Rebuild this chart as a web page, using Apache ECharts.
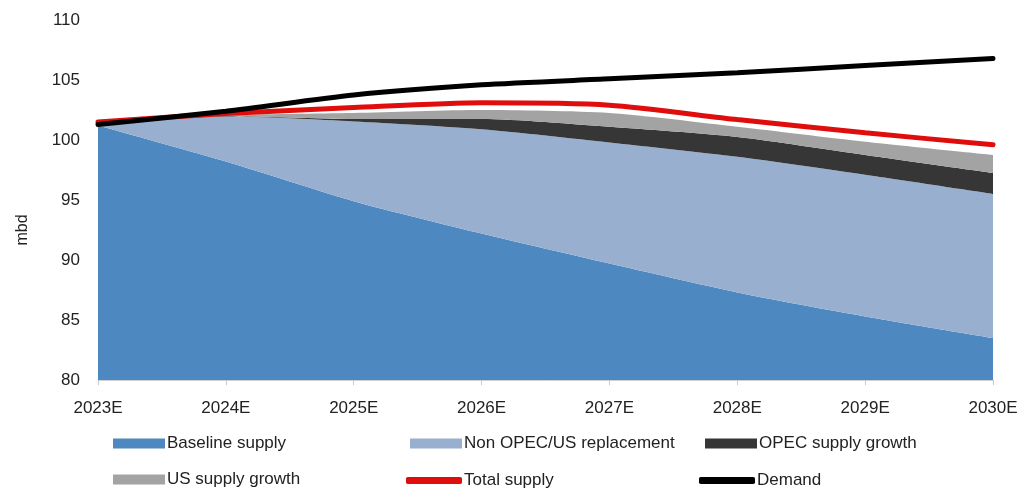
<!DOCTYPE html>
<html>
<head>
<meta charset="utf-8">
<script src="https://cdn.jsdelivr.net/npm/echarts@6/dist/echarts.min.js"></script>
<style>
  html, body { margin: 0; padding: 0; background: #fff; }
  #chart { width: 1021px; height: 490px; }
</style>
</head>
<body>
<div id="chart"></div>
<script>
// Oil supply vs demand outlook, million barrels per day
const years = ['2023E', '2024E', '2025E', '2026E', '2027E', '2028E', '2029E', '2030E'];
const baselineSupply = [101.2, 98.2, 94.9, 92.2, 89.7, 87.3, 85.3, 83.5];
const nonOpecReplacement = [0.1, 3.75, 6.65, 8.7, 10.1, 11.3, 11.8, 12.0];
const opecGrowth = [0.0, 0.05, 0.2, 0.85, 1.3, 1.65, 1.65, 1.75];
const usGrowth = [0.0, 0.05, 0.5, 0.75, 1.15, 0.85, 1.1, 1.5];
const totalSupply = [101.5, 102.2, 102.7, 103.1, 102.9, 101.7, 100.6, 99.6];
const demand = [101.3, 102.4, 103.75, 104.6, 105.1, 105.6, 106.2, 106.8];
const yTicks = { min: 80, max: 110, step: 5 };

const COLORS = {
  baseline: '#4d88c0',
  nonOpec: '#98afd0',
  opec: '#363636',
  us: '#a3a3a3',
  total: '#e00d0d',
  demand: '#000000'
};
const FONT = 'Liberation Sans, Arial, sans-serif';
const TEXT = '#222222';

function areaSeries(name, data, color) {
  return {
    name, type: 'line', stack: 'supply', data,
    smooth: 0.25, symbol: 'none',
    lineStyle: { width: 0 },
    itemStyle: { color },
    areaStyle: { color, opacity: 1 },
    z: 2
  };
}
function lineSeries(name, data, color) {
  return {
    name, type: 'line', data,
    smooth: 0.25, symbol: 'none',
    lineStyle: { width: 5, color, cap: 'round' },
    itemStyle: { color },
    z: 5
  };
}

// one legend block per entry so the three columns line up
function legendItem(name, left, top, isLine) {
  return {
    left, top,
    itemWidth: isLine ? 56 : 52,
    itemHeight: isLine ? 7 : 10,
    textStyle: { fontFamily: FONT, fontSize: 17, color: TEXT, padding: [0, 0, 0, -3] },
    selectedMode: false,
    data: [{ name, icon: isLine ? 'roundRect' : 'rect' }]
  };
}

const chart = echarts.init(document.getElementById('chart'), null, { renderer: 'canvas' });
chart.setOption({
  animation: false,
  backgroundColor: '#ffffff',
  grid: { left: 98, right: 28, top: 20, bottom: 110, containLabel: false },
  legend: [
    legendItem('Baseline supply', 108, 430, false),
    legendItem('Non OPEC/US replacement', 405, 430, false),
    legendItem('OPEC supply growth', 700, 430, false),
    legendItem('US supply growth', 108, 466, false),
    legendItem('Total supply', 401, 467, true),
    legendItem('Demand', 694, 467, true)
  ],
  xAxis: {
    type: 'category',
    data: years,
    boundaryGap: false,
    axisLine: { show: true, lineStyle: { color: '#d0d0d0' } },
    axisTick: { show: true, length: 5, lineStyle: { color: '#c8c8c8' } },
    axisLabel: { fontFamily: FONT, fontSize: 17, color: TEXT, margin: 20 },
    splitLine: { show: false }
  },
  yAxis: {
    type: 'value',
    min: yTicks.min, max: yTicks.max, interval: yTicks.step,
    name: 'mbd',
    nameLocation: 'middle',
    nameGap: 67,
    nameRotate: 90,
    nameTextStyle: { fontFamily: FONT, fontSize: 16, color: TEXT, padding: [0, 60, 0, 0] },
    axisLine: { show: false },
    axisTick: { show: false },
    axisLabel: { fontFamily: FONT, fontSize: 17, color: TEXT, margin: 18 },
    splitLine: { show: false }
  },
  series: [
    areaSeries('Baseline supply', baselineSupply, COLORS.baseline),
    areaSeries('Non OPEC/US replacement', nonOpecReplacement, COLORS.nonOpec),
    areaSeries('OPEC supply growth', opecGrowth, COLORS.opec),
    areaSeries('US supply growth', usGrowth, COLORS.us),
    lineSeries('Total supply', totalSupply, COLORS.total),
    lineSeries('Demand', demand, COLORS.demand)
  ]
});
</script>
</body>
</html>
